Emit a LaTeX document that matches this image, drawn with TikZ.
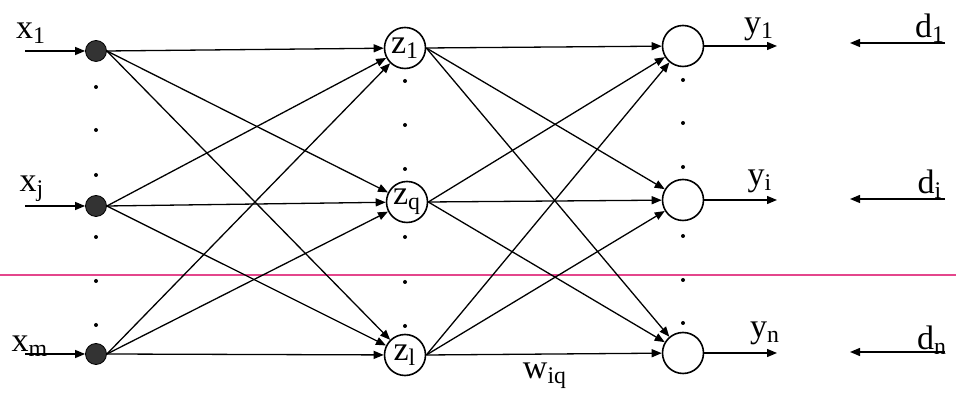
\documentclass[tikz,border=0pt]{standalone}
\usepackage{fontspec}
\setmainfont{Liberation Serif}
\usetikzlibrary{arrows.meta,positioning}
\definecolor{scanpink}{RGB}{228,70,140}

\begin{document}
\begin{tikzpicture}[
  x=0.5pt, y=0.5pt,
  >={Triangle[length=5pt, width=4pt]},
  every node/.style={font=\fontsize{17}{19}\selectfont},
  inp/.style={circle, draw, fill=black!80, minimum size=10.5pt, inner sep=0pt},
  neur/.style={circle, draw, thick, minimum size=20.5pt, inner sep=0pt},
  conn/.style={->, line width=0.65pt},
  lbl/.style={inner sep=0pt}
]
\useasboundingbox (0,0) rectangle (956,400);
% scan line
\draw[line width=0.7pt, scanpink] (0,125) -- (956,125);

% input layer
\node[inp] (in1) at (96,349) {};
\node[inp] (inj) at (96,194) {};
\node[inp] (inm) at (96,46) {};
\coordinate (s1) at (25,349);
\coordinate (sj) at (25,194);
\coordinate (sm) at (25,46);
\node[lbl] (lx1) at (31,367) {x\textsubscript{1}};
\node[lbl] (lxj) at (32,211) {x\textsubscript{j}};
\node[lbl] (lxm) at (30,54) {x\textsubscript{m}};

% hidden layer
\node[neur] (hid1) at (405,352) {z\textsubscript{1}};
\node[neur] (hidq) at (407,198) {z\textsubscript{q}};
\node[neur] (hidl) at (405,45) {z\textsubscript{l}};

% output layer
\node[neur] (out1) at (683,354) {};
\node[neur] (outi) at (683,200) {};
\node[neur] (outn) at (683,47) {};
\coordinate (e1) at (777,354);
\coordinate (ei) at (777,200);
\coordinate (en) at (777,47);
\node[lbl] (ly1) at (759,371) {y\textsubscript{1}};
\node[lbl] (lyi) at (760,219) {y\textsubscript{i}};
\node[lbl] (lyn) at (765,67) {y\textsubscript{n}};

% desired outputs
\coordinate (d1s) at (945,357);
\coordinate (dis) at (945,201);
\coordinate (dns) at (945,48);
\coordinate (d1e) at (850,357);
\coordinate (die) at (850,201);
\coordinate (dne) at (850,48);
\node[lbl] (ld1) at (930,372) {d\textsubscript{1}};
\node[lbl] (ldi) at (930,216) {d\textsubscript{i}};
\node[lbl] (ldn) at (932,60) {d\textsubscript{n}};

\node[lbl] (lw) at (545,24) {w\textsubscript{iq}};

% dots
\fill (96,313) circle (1pt) (96,270) circle (1pt) (96,225) circle (1pt)
      (96,163) circle (1pt) (96,119) circle (1pt) (96,75) circle (1pt);
\fill (405,319) circle (1pt) (405,275) circle (1pt) (405,231) circle (1pt)
      (405,163) circle (1pt) (405,118) circle (1pt) (405,74) circle (1pt);
\fill (683,320) circle (1pt) (683,277) circle (1pt) (683,233) circle (1pt)
      (683,164) circle (1pt) (683,120) circle (1pt) (683,77) circle (1pt);

% inputs
\draw[conn] (s1) -- (in1);
\draw[conn] (sj) -- (inj);
\draw[conn] (sm) -- (inm);

% input -> hidden
\draw[conn] (in1.east) -- (hid1);
\draw[conn] (in1.east) -- (hidq);
\draw[conn] (in1.east) -- (hidl);
\draw[conn] (inj.east) -- (hid1);
\draw[conn] (inj.east) -- (hidq);
\draw[conn] (inj.east) -- (hidl);
\draw[conn] (inm.east) -- (hid1);
\draw[conn] (inm.east) -- (hidq);
\draw[conn] (inm.east) -- (hidl);

% hidden -> output
\draw[conn] (hid1.east) -- (out1);
\draw[conn] (hid1.east) -- (outi);
\draw[conn] (hid1.east) -- (outn);
\draw[conn] (hidq.east) -- (out1);
\draw[conn] (hidq.east) -- (outi);
\draw[conn] (hidq.east) -- (outn);
\draw[conn] (hidl.east) -- (out1);
\draw[conn] (hidl.east) -- (outi);
\draw[conn] (hidl.east) -- (outn);

% outputs and targets
\draw[conn] (out1) -- (e1);
\draw[conn] (outi) -- (ei);
\draw[conn] (outn) -- (en);
\draw[conn] (d1s) -- (d1e);
\draw[conn] (dis) -- (die);
\draw[conn] (dns) -- (dne);
\end{tikzpicture}
\end{document}
